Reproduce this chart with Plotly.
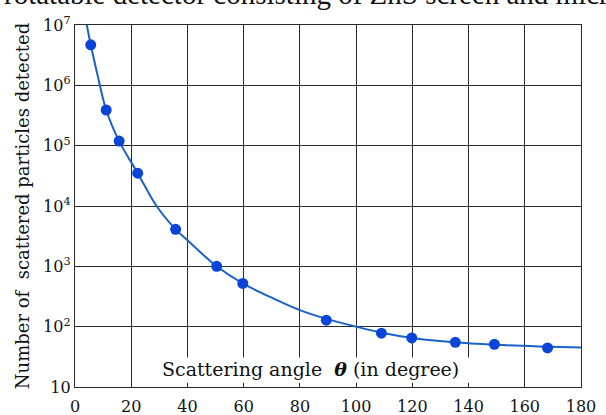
import plotly.graph_objects as go

# measured points (scattering angle in degrees, counts)
theta_pts = [5.6, 11.1, 15.7, 22.3, 35.8, 50.4, 59.7, 89.4, 109.0, 119.8, 135.3, 149.2, 168.1]
count_pts = [4.7e6, 3.9e5, 1.19e5, 3.5e4, 4.1e3, 1.0e3, 520, 128, 78, 65, 55, 51, 44.5]

# fitted curve
theta_curve = [4.2, 5.6, 8.0, 11.1, 15.7, 22.3, 29.0, 35.8, 40.0, 50.4, 59.7, 70.0, 80.0,
               90.0, 100.0, 110.0, 120.0, 135.0, 150.0, 165.0, 180.0]
count_curve = [1.0e7, 4.7e6, 1.5e6, 3.9e5, 1.19e5, 3.5e4, 1.0e4, 4.1e3, 2.7e3, 1.0e3, 520,
               302, 188, 132, 100, 78, 65, 55, 50, 47, 45]

x_ticks = [0, 20, 40, 60, 80, 100, 120, 140, 160, 180]
y_ticks = [10, 1e2, 1e3, 1e4, 1e5, 1e6, 1e7]
y_ticktext = ["10", "10<sup>2</sup>", "10<sup>3</sup>", "10<sup>4</sup>",
              "10<sup>5</sup>", "10<sup>6</sup>", "10<sup>7</sup>"]

serif = "DejaVu Serif, serif"
times = "Liberation Serif, serif"
grid_col = "#2a2a2a"

fig = go.Figure()
fig.add_trace(go.Scatter(x=theta_curve, y=count_curve, mode="lines",
                         line=dict(color="#1a62c9", width=2, shape="spline", smoothing=1.0),
                         hoverinfo="skip", showlegend=False))
fig.add_trace(go.Scatter(x=theta_pts, y=count_pts, mode="markers",
                         marker=dict(color="#0a45d8", size=11),
                         showlegend=False))

# white box behind x-axis title inside plot
fig.add_shape(type="rect", xref="x", yref="y", x0=29, x1=143, y0=10**1.07, y1=10**1.49,
              fillcolor="white", line=dict(width=0), layer="above")
# annotation y on a log axis is given in log10 units
fig.add_annotation(x=83.8, y=1.30, xref="x", yref="y",
                   text="Scattering angle  <i><b>θ</b></i> (in degree)",
                   showarrow=False, font=dict(family=serif, size=19, color="#111"))

fig.update_layout(
    width=606, height=415,
    margin=dict(l=75, r=25, t=25, b=28, autoexpand=False),
    paper_bgcolor="white", plot_bgcolor="white",
    font=dict(family=serif, size=16, color="#111"),
    xaxis=dict(range=[0, 180], tickvals=x_ticks, showgrid=True, gridcolor=grid_col, gridwidth=1.4,
               showline=True, linecolor=grid_col, linewidth=1.4, mirror=True,
               ticks="inside", ticklen=4, tickcolor=grid_col, zeroline=False, automargin=False,
               ticklabelstandoff=5, tickfont=dict(family=serif, size=16)),
    yaxis=dict(type="log", range=[1, 7], tickvals=y_ticks, ticktext=y_ticktext,
               showgrid=True, gridcolor=grid_col, gridwidth=1.4,
               showline=True, linecolor=grid_col, linewidth=1.4, mirror=True,
               ticks="", zeroline=False, automargin=False, tickfont=dict(family=serif, size=16),
               title=dict(text="Number of  scattered particles detected",
                          font=dict(family=serif, size=18), standoff=8)),
)

# clipped caption line at the very top of the source image
fig.add_annotation(x=-0.144, y=1.086, xref="paper", yref="paper", xanchor="left", yanchor="middle",
                   text="rotatable detector consisting of ZnS screen and microscope",
                   showarrow=False, font=dict(family=times, size=29, color="#111"))

fig.write_html("out.html", config={"displayModeBar": False},
               post_script="document.body.style.margin='0';document.body.style.overflow='hidden';")
